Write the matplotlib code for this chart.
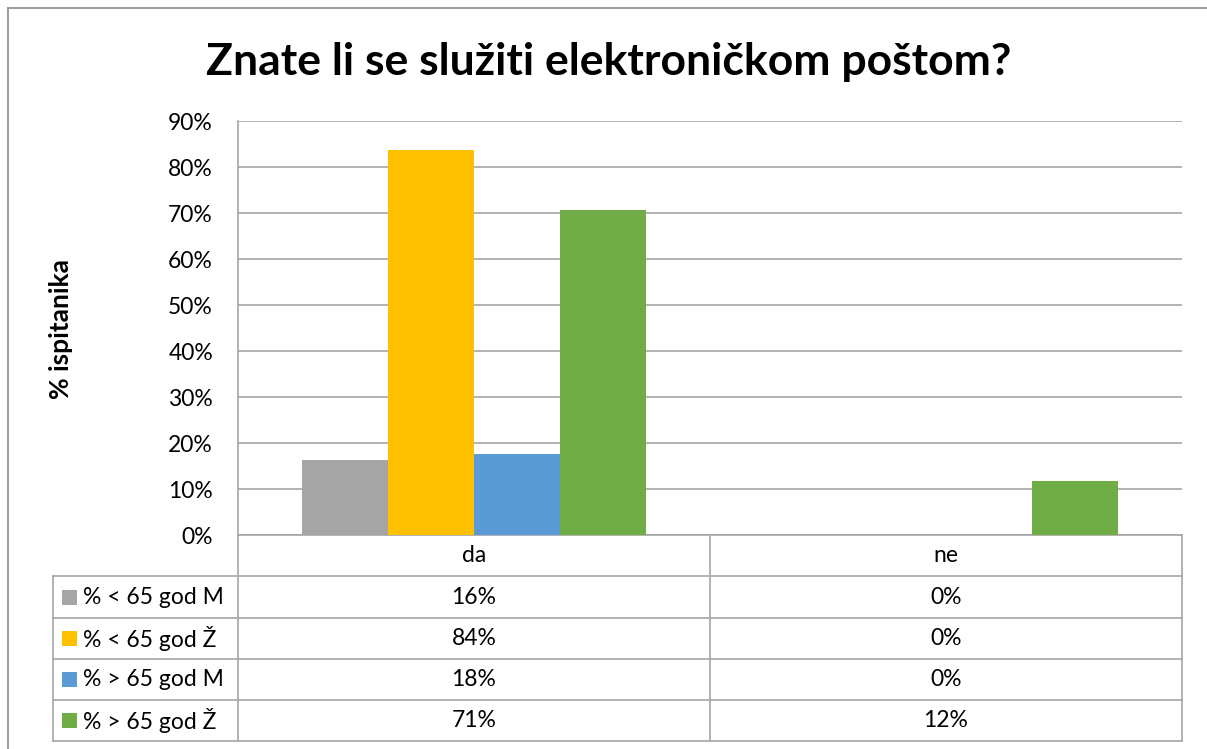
import matplotlib
matplotlib.use("Agg")
import matplotlib.pyplot as plt
from matplotlib.lines import Line2D
from matplotlib.patches import Rectangle

plt.rcParams['font.family'] = ['Lato', 'DejaVu Sans']

# ---- data ----
categories = ["da", "ne"]
series_names = ["% < 65 god M", "% < 65 god Ž", "% > 65 god M", "% > 65 god Ž"]
series_values = [
    [0.164, 0.0],   # % < 65 god M
    [0.836, 0.0],   # % < 65 god Ž
    [0.176, 0.0],   # % > 65 god M
    [0.706, 0.117], # % > 65 god Ž
]
colors = ["#A5A5A5", "#FFC000", "#5B9BD5", "#70AD47"]
yticks = [0, 0.1, 0.2, 0.3, 0.4, 0.5, 0.6, 0.7, 0.8, 0.9]
title = "Znate li se služiti elektroničkom poštom?"
ylabel = "% ispitanika"

W, H = 1207, 749
fig = plt.figure(figsize=(W / 100, H / 100), dpi=100)
fig.patch.set_facecolor("white")

def fx(px):
    return px / W

def fy(py):
    return 1 - py / H

L, R, T, B = 238, 1182, 121, 535
ax = fig.add_axes([fx(L), fy(B), fx(R) - fx(L), fy(T) - fy(B)])
ax.set_xlim(-0.5, len(categories) - 0.5)
ax.set_ylim(0, 0.9)

n = len(series_names)
bw = 0.1822
for i, (name, vals, c) in enumerate(zip(series_names, series_values, colors)):
    xs = [k + (i - (n - 1) / 2) * bw for k in range(len(categories))]
    ax.bar(xs, vals, width=bw, color=c, zorder=3, label=name)

fs = 16.5
grid_c = "#A6A6A6"
ax.set_yticks(yticks)
ax.set_yticklabels([f"{int(round(t * 100))}%" for t in yticks], fontsize=fs)
ax.tick_params(axis="y", length=0, pad=18)
ax.set_xticks([])
ax.yaxis.grid(True, color=grid_c, linewidth=1.2, zorder=0)
for s in ["top", "right"]:
    ax.spines[s].set_visible(False)
ax.spines["left"].set_color(grid_c)
ax.spines["bottom"].set_color(grid_c)
ax.spines["left"].set_linewidth(1.2)
ax.spines["bottom"].set_linewidth(1.2)

# title and y label
fig.text(fx(609), fy(62), title, ha="center", va="center", fontsize=32, fontweight="bold")
fig.text(fx(61), fy(329), ylabel, ha="center", va="center", rotation=90, fontsize=19, fontweight="bold")

# ---- data table ----
row_edges = [535, 576, 618, 659, 700, 741]
tl, tr = 53, 1182
col_x = [ax.transData.transform((k, 0))[0] for k in range(len(categories))]
col_edges = [ax.transData.transform((k - 0.5, 0))[0] for k in range(len(categories) + 1)]

def hline(y, x0, x1):
    fig.add_artist(Line2D([fx(x0), fx(x1)], [fy(y), fy(y)], color=grid_c, linewidth=1.2))

def vline(x, y0, y1):
    fig.add_artist(Line2D([fx(x), fx(x)], [fy(y0), fy(y1)], color=grid_c, linewidth=1.2))

for y in row_edges[1:]:
    hline(y, tl, tr)
vline(tl, row_edges[1], row_edges[-1])
for x in col_edges:
    vline(x, row_edges[0], row_edges[-1])

# header row
hc = (row_edges[0] + row_edges[1]) / 2
for cx, cat in zip(col_x, categories):
    fig.text(fx(cx), fy(hc), cat, ha="center", va="center", fontsize=fs)

for r, (name, vals, c) in enumerate(zip(series_names, series_values, colors)):
    yc = (row_edges[r + 1] + row_edges[r + 2]) / 2
    fig.add_artist(Rectangle((fx(62), fy(yc + 7.5)), fx(15), 15 / H, facecolor=c, edgecolor="none"))
    fig.text(fx(83), fy(yc), name, ha="left", va="center", fontsize=fs)
    for cx, v in zip(col_x, vals):
        fig.text(fx(cx), fy(yc), f"{int(round(v * 100))}%", ha="center", va="center", fontsize=fs)

# outer chart frame
frame_c = "#8C8C8C"
fig.add_artist(Line2D([fx(8), fx(8)], [fy(8), 0], color=frame_c, linewidth=1.2))
fig.add_artist(Line2D([fx(8), 1], [fy(8), fy(8)], color=frame_c, linewidth=1.2))

fig.savefig("out.png", dpi=100)
